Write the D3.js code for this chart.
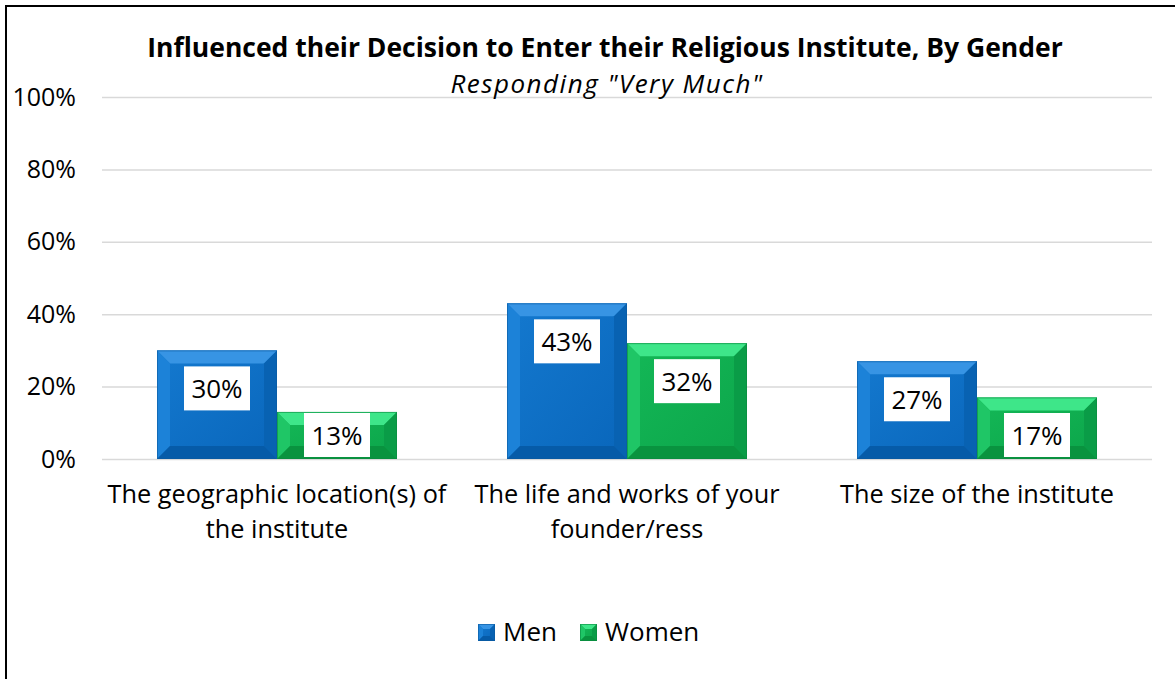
<!DOCTYPE html>
<html>
<head>
<meta charset="utf-8">
<script src="https://cdn.jsdelivr.net/npm/d3@7"></script>
<style>
  html, body { margin: 0; padding: 0; background: #fff; }
  svg { display: block; font-family: "Open Sans", "Noto Sans", sans-serif; }
</style>
</head>
<body>
<svg id="chart" width="1175" height="679"></svg>
<script>
// Chart data
const categories = [
  "The geographic location(s) of the institute",
  "The life and works of your founder/ress",
  "The size of the institute"
];
const categoryLines = [
  ["The geographic location(s) of", "the institute"],
  ["The life and works of your", "founder/ress"],
  ["The size of the institute"]
];
const seriesNames = ["Men", "Women"];
const menValues = [30, 43, 27];
const womenValues = [13, 32, 17];
const yTicks = [0, 20, 40, 60, 80, 100];

const titleText = "Influenced their Decision to Enter their Religious Institute, By Gender";
const subtitleText = "Responding \"Very Much\"";

// Bevel palettes: face gradient, edges, outline
const palettes = {
  Men:   { faceA: "#1479cf", faceB: "#0966bb", top: "#3794e4", left: "#1c82d8", right: "#0862b2", bottom: "#065ba8", stroke: "#0a5aa0" },
  Women: { faceA: "#14b857", faceB: "#0ca54a", top: "#3ee689", left: "#1fc666", right: "#0a9c47", bottom: "#09933f", stroke: "#0a8a40" }
};

const svg = d3.select("#chart");
const W = 1175, H = 679;

const defs = svg.append("defs");
Object.entries(palettes).forEach(([k, p]) => {
  const g = defs.append("linearGradient").attr("id", "face-" + k)
    .attr("x1", "0").attr("y1", "0").attr("x2", "1").attr("y2", "1");
  g.append("stop").attr("offset", "0").attr("stop-color", p.faceA);
  g.append("stop").attr("offset", "1").attr("stop-color", p.faceB);
});

// Frame (left and top edges)
svg.append("line").attr("x1", 6).attr("y1", 5).attr("x2", 6).attr("y2", H).attr("stroke", "#000").attr("stroke-width", 2);
svg.append("line").attr("x1", 5).attr("y1", 6).attr("x2", W).attr("y2", 6).attr("stroke", "#000").attr("stroke-width", 2);

const plot = { left: 102, right: 1152, top: 97, bottom: 459 };

const y = d3.scaleLinear().domain([0, 100]).range([plot.bottom, plot.top]);
const x0 = d3.scaleBand().domain(categories).range([plot.left, plot.right]).padding(0);
const x1 = d3.scaleBand().domain(seriesNames).range([55, x0.bandwidth() - 55]).padding(0);

// Gridlines
svg.append("g").selectAll("line").data(yTicks).join("line")
  .attr("x1", plot.left).attr("x2", plot.right)
  .attr("y1", d => y(d) + 0.5).attr("y2", d => y(d) + 0.5)
  .attr("stroke", "#d9d9d9").attr("stroke-width", 1.5);

// Y axis labels
const yAxis = d3.axisLeft(y).tickValues(yTicks).tickFormat(d => d + "%").tickSize(0).tickPadding(0);
const yg = svg.append("g").attr("transform", `translate(76,0)`).call(yAxis);
yg.select(".domain").remove();
yg.selectAll("text").attr("font-size", 25).attr("fill", "#000")
  .attr("font-family", "\"Open Sans\", sans-serif");

// Bevelled bar
function bevelBar(g, bx, by, bw, bh, key, b) {
  const pal = palettes[key];
  b = Math.min(b, bw / 2, bh / 2);
  const x2 = bx + bw, y2 = by + bh;
  g.append("rect").attr("x", bx).attr("y", by).attr("width", bw).attr("height", bh).attr("fill", `url(#face-${key})`);
  const poly = (pts, fill) => g.append("polygon").attr("points", pts.map(p => p.join(",")).join(" ")).attr("fill", fill);
  poly([[bx, by], [x2, by], [x2 - b, by + b], [bx + b, by + b]], pal.top);
  poly([[bx, by], [bx + b, by + b], [bx + b, y2 - b], [bx, y2]], pal.left);
  poly([[x2, by], [x2, y2], [x2 - b, y2 - b], [x2 - b, by + b]], pal.right);
  poly([[bx, y2], [bx + b, y2 - b], [x2 - b, y2 - b], [x2, y2]], pal.bottom);
  g.append("rect").attr("x", bx + 0.5).attr("y", by + 0.5).attr("width", bw - 1).attr("height", bh - 1)
    .attr("fill", "none").attr("stroke", pal.stroke).attr("stroke-width", 1).attr("opacity", 0.6);
}

const rows = categories.map((c, i) => ({ cat: c, vals: [
  { name: "Men", v: menValues[i] },
  { name: "Women", v: womenValues[i] }
]}));

const barsG = svg.append("g");
rows.forEach(r => {
  r.vals.forEach(d => {
    const bx = x0(r.cat) + x1(d.name);
    const by = y(d.v);
    bevelBar(barsG, bx, by, x1.bandwidth(), y(0) - by, d.name, 13);
  });
});

// Data labels in white boxes
const labelsG = svg.append("g");
rows.forEach(r => {
  r.vals.forEach(d => {
    const cx = x0(r.cat) + x1(d.name) + x1.bandwidth() / 2;
    const cy = Math.min(y(d.v) + 38, y(0) - 24);
    const g = labelsG.append("g");
    g.append("rect").attr("x", cx - 33).attr("y", cy - 22).attr("width", 66).attr("height", 44).attr("fill", "#fff");
    g.append("text").attr("x", cx).attr("y", cy).attr("text-anchor", "middle").attr("dominant-baseline", "central")
      .attr("font-size", 26).attr("fill", "#000").text(d.v + "%");
  });
});

// Category labels
const catG = svg.append("g");
categories.forEach((c, i) => {
  const cx = x0(c) + x0.bandwidth() / 2;
  const t = catG.append("text").attr("x", cx).attr("y", 503)
    .attr("text-anchor", "middle").attr("font-size", 25.3).attr("fill", "#000");
  categoryLines[i].forEach((line, j) => {
    t.append("tspan").attr("x", cx).attr("dy", j === 0 ? 0 : 35).text(line);
  });
});

// Title and subtitle
svg.append("text").attr("x", 605).attr("y", 57).attr("text-anchor", "middle")
  .attr("font-size", 26.5).attr("font-weight", "bold").attr("fill", "#000").text(titleText);
svg.append("text").attr("x", 607).attr("y", 93).attr("text-anchor", "middle")
  .attr("font-size", 26).attr("font-style", "italic").attr("letter-spacing", 1.5)
  .attr("fill", "#000").text(subtitleText);

// Legend
const legendItems = [{ name: "Men", x: 478, tx: 503 }, { name: "Women", x: 580, tx: 605 }];
const legG = svg.append("g");
legendItems.forEach(it => {
  bevelBar(legG, it.x, 624, 17, 17, it.name, 5);
  legG.append("text").attr("x", it.tx).attr("y", 641).attr("font-size", 26).attr("fill", "#000").text(it.name);
});
</script>
</body>
</html>
